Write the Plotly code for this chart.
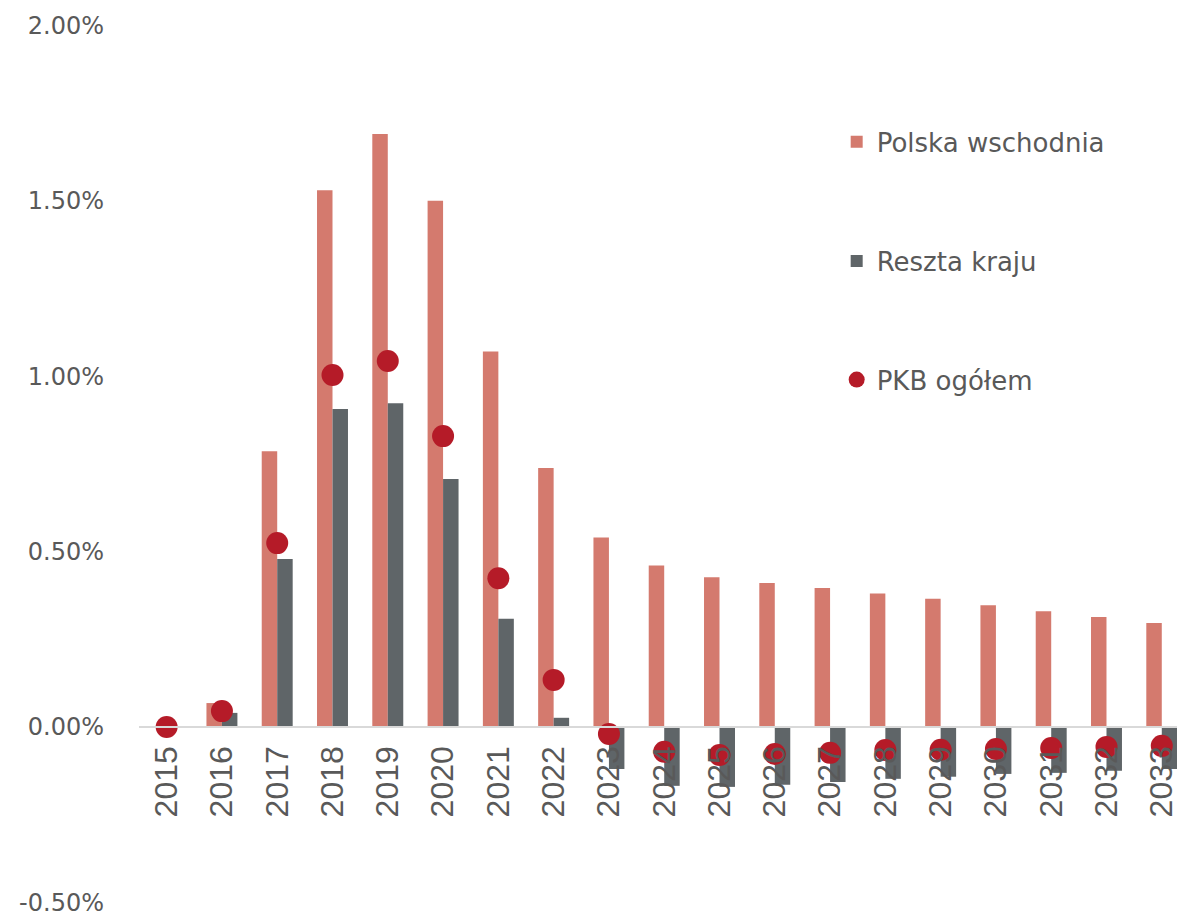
import plotly.graph_objects as go

years = [str(y) for y in range(2015, 2034)]
polska_wschodnia = [0.0, 0.068, 0.786, 1.53, 1.69, 1.50, 1.07, 0.738, 0.54, 0.46, 0.427, 0.41,
                    0.396, 0.38, 0.365, 0.347, 0.33, 0.313, 0.296]
reszta_kraju = [0.0, 0.04, 0.479, 0.906, 0.923, 0.707, 0.308, 0.026, -0.12, -0.168, -0.171, -0.165,
                -0.157, -0.148, -0.142, -0.134, -0.131, -0.125, -0.12]
pkb_ogolem = [0.0, 0.045, 0.524, 1.003, 1.043, 0.829, 0.424, 0.134, -0.02, -0.071, -0.08, -0.077,
              -0.074, -0.066, -0.065, -0.063, -0.06, -0.057, -0.054]
y_tick_values = [-0.005, 0.0, 0.005, 0.01, 0.015, 0.02]
y_tick_labels = ["-0.50%", "0.00%", "0.50%", "1.00%", "1.50%", "2.00%"]

to_frac = lambda v: [x / 100 for x in v]

SALMON = "#D47A6E"
GRAY = "#5F6568"
RED = "#B51B28"
TXT = "#595959"

fig = go.Figure()
fig.add_trace(go.Bar(x=years, y=to_frac(polska_wschodnia), name="Polska wschodnia",
                     marker=dict(color=SALMON, line=dict(width=0)), legend="legend"))
fig.add_trace(go.Bar(x=years, y=to_frac(reszta_kraju), name="Reszta kraju",
                     marker=dict(color=GRAY, line=dict(width=0)), legend="legend2"))
fig.add_trace(go.Scatter(x=years, y=to_frac(pkb_ogolem), name="PKB ogółem", mode="markers",
                         marker=dict(color=RED, size=22, line=dict(width=0)), legend="legend3"))

leg_common = dict(font=dict(family="DejaVu Sans, Open Sans, sans-serif", size=26, color=TXT),
                  bgcolor="rgba(0,0,0,0)", xanchor="left", yanchor="middle", x=0.667,
                  itemwidth=30)

# page body has an 8px default margin, so the figure is sized/offset to compensate
fig.update_layout(
    width=1177, height=906,
    margin=dict(l=131, r=0, t=17, b=11),
    paper_bgcolor="white", plot_bgcolor="white",
    barmode="group", bargap=0.44, bargroupgap=0,
    showlegend=True,
    legend=dict(**leg_common, y=0.867),
    legend2=dict(**leg_common, y=0.731),
    legend3=dict(**leg_common, y=0.596),
    xaxis=dict(
        type="category", anchor="free", position=0.2, automargin=False,
        range=[-0.5, 18.42],
        showline=True, linecolor="#D9D9D9", linewidth=2,
        showgrid=False, zeroline=False,
        tickangle=-90, ticks="", ticklabelstandoff=5,
        tickfont=dict(family="Liberation Sans Narrow, Arial Narrow, sans-serif", size=32, color=TXT),
    ),
    yaxis=dict(
        range=[-0.00502, 0.02001], tickmode="array",
        tickvals=y_tick_values, ticktext=y_tick_labels, automargin=False,
        ticklabeloverflow="allow",
        showgrid=False, zeroline=False, showline=False,
        ticks="", ticklabelstandoff=34,
        tickfont=dict(family="DejaVu Sans, sans-serif", size=24, color=TXT),
    ),
)

fig.write_html("out.html")
